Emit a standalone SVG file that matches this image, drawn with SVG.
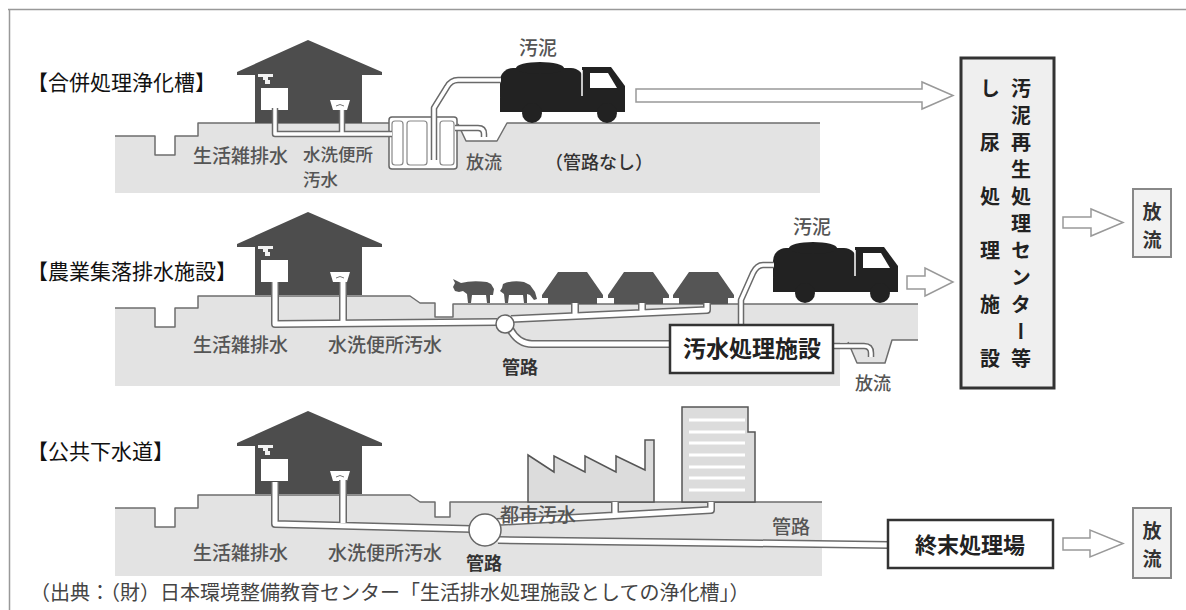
<svg xmlns="http://www.w3.org/2000/svg" xmlns:xlink="http://www.w3.org/1999/xlink" width="1186" height="610" viewBox="0 0 1186 610">
  <style>
    text { font-family: "Noto Sans CJK JP", "Noto Sans", sans-serif; }
    .title { font-size: 21px; fill: #111; }
    .lbl { font-size: 19px; fill: #555; font-weight: 500; }
    .lbl-dark { font-size: 18px; fill: #333; font-weight: bold; }
    .box-txt { font-size: 23px; fill: #222; font-weight: bold; text-anchor: middle; }
    .v-txt { font-size: 20px; fill: #222; font-weight: bold; writing-mode: vertical-rl; }
    .out-txt { font-size: 19px; fill: #333; font-weight: bold; text-anchor: middle; }
    .ground { fill: #e3e3e3; stroke: none; }
    .ground-edge { fill: none; stroke: #6e6e6e; stroke-width: 1.5; stroke-linejoin: round; }
    .pipe-o { fill: none; stroke: #6a6a6a; stroke-width: 8; stroke-linejoin: round; }
    .pipe-i { fill: none; stroke: #ffffff; stroke-width: 5; stroke-linejoin: round; }
    .thin-o { fill: none; stroke: #6a6a6a; stroke-width: 6.5; stroke-linejoin: round; }
    .thin-i { fill: none; stroke: #ffffff; stroke-width: 3.5; stroke-linejoin: round; }
    .hollow { fill: #fff; stroke: #999; stroke-width: 1.5; stroke-linejoin: miter; }
    .dark { fill: #4d4d4d; }
    .manhole { fill: #fff; stroke: #666; stroke-width: 1.5; }
    .facility { fill: #fff; stroke: #333; stroke-width: 2.5; }
    .outlet { fill: #f2f2f2; stroke: #888; stroke-width: 2; }
  </style>
  <defs>
    <!-- dwelling with sink, faucet and toilet -->
    <g id="house">
      <path class="dark" d="M237,72 L308,40 L382,72 L382,75 L362,75 L362,123 L255,123 L255,75 L237,75 Z"/>
      <path d="M258,74 H273 V77 H268 V80 H270 V84 H265 V80 H263 V77 H258 Z" fill="#f2f2f2"/>
      <rect x="261" y="88" width="27" height="22" fill="#fff"/>
      <path d="M330,100 H350 L347,110 H333 Z" fill="#fff"/>
      <path d="M336,106 q4,-3 8,0" fill="none" stroke="#777" stroke-width="1"/>
    </g>
    <!-- vacuum truck -->
    <g id="truck">
      <rect x="500" y="68" width="84" height="42" rx="13" fill="#222"/>
      <ellipse cx="540" cy="68" rx="24" ry="6" fill="#222"/>
      <rect x="500" y="98" width="125" height="14" fill="#222"/>
      <path d="M582,67 H611 L625,86 V112 H582 Z" fill="#222"/>
      <path d="M582,70 V96" stroke="#fff" stroke-width="1.5"/>
      <path d="M590,73 H608 L617,88 H590 Z" fill="#fff"/>
      <circle cx="532" cy="113" r="10" fill="#222"/>
      <circle cx="607" cy="113" r="10" fill="#222"/>
    </g>
    <path id="barn" d="M558,272 H587 L603,295 V298 H597 V304 H548 V298 H542 V295 Z" fill="#555"/>
  </defs>

  <rect width="1186" height="610" fill="#fff"/>
  <path id="frame" d="M8,9.5 H1186 M9.5,9 V610" fill="none" stroke="#999" stroke-width="1.5"/>

  <!-- ===== combined septic tank ===== -->
  <g id="sec-septic">
    <text class="title" x="27" y="90">【合併処理浄化槽】</text>
    <path class="ground" d="M115,136 H155 V155 H175 V136 H198 V123 H458 L466,141 H497 L507,123 H820 V193 H115 Z"/>
    <path class="ground-edge" d="M115,136 H155 V155 H175 V136 H198 V123 H389 M458,124 L466,141 H497 L507,123 H820"/>
    <use href="#house"/>
    <use href="#truck"/>
    <!-- tank -->
    <rect x="389" y="117" width="68" height="52" rx="3" fill="#fff" stroke="#666" stroke-width="1.5"/>
    <g fill="none" stroke="#888" stroke-width="1.2">
      <rect x="392" y="121" width="11" height="44" rx="3"/>
      <rect x="407" y="121" width="20" height="44" rx="3"/>
      <rect x="440" y="121" width="14" height="44" rx="3"/>
    </g>
    <path class="thin-o" d="M275,108 V134 H392 M342,110 V134"/>
    <path class="thin-o" d="M501,80 H458 Q451,80 447,87 L434,108 V160"/>
    <path class="thin-o" d="M455,128 H478 Q484,128 484,134 V137"/>
    <path class="thin-i" d="M275,108 V134 H392 M342,110 V134"/>
    <path class="thin-i" d="M501,80 H458 Q451,80 447,87 L434,108 V160"/>
    <path class="thin-i" d="M455,128 H478 Q484,128 484,134 V137"/>
    <text class="lbl" x="519" y="55">汚泥</text>
    <text class="lbl" x="193" y="163">生活雑排水</text>
    <text class="lbl" style="font-size:17.5px"><tspan x="303" y="161">水洗便所</tspan><tspan x="303" y="186">汚水</tspan></text>
    <text class="lbl" x="466" y="169" style="font-size:18px">放流</text>
    <text x="545" y="169" style="font-size:18px;fill:#333;font-weight:500">（管路なし）</text>
  </g>

  <!-- ===== rural community sewerage ===== -->
  <g id="sec-rural">
    <text class="title" x="27" y="279">【農業集落排水施設】</text>
    <path class="ground" d="M115,308 H155 V327 H175 V308 H198 V296 H410 L420,303 H435 V317 H453 V304 H918 V340 H892 L885,363 H857 L848,342 H840 V386 H115 Z"/>
    <path class="ground-edge" d="M115,308 H155 V327 H175 V308 H198 V296 H410 L420,303 H435 V317 H453 V304 H918 M918,340 H892 L885,363 H857 L848,342"/>
    <use href="#house" transform="translate(0,172)"/>
    <!-- cattle -->
    <path fill="#555" d="M461,283 Q472,280 487,282 L491,284 L494,289 L493,295 L490,295 L490,303 L487,303 L486,295 L472,295 L471,303 L468,303 L467,294 L463,291 L459,292 L455,291 L453,287 L455,283 L453,279 L457,281 Z"/>
    <path fill="#555" d="M503,284 Q512,280 524,282 L530,285 L535,292 L537,299 L534,300 L530,295 L527,294 L527,303 L524,303 L523,295 L509,295 L508,303 L505,303 L504,294 L500,291 L502,288 Z"/>
    <!-- barns -->
    <use href="#barn"/>
    <use href="#barn" transform="translate(66,0)"/>
    <use href="#barn" transform="translate(131,0)"/>
    <use href="#truck" transform="translate(273,180)"/>
    <path class="pipe-o" d="M275,282 V324 L497,322 M343,282 V323 M511,319 L707,310 V303 M575,303 V316 M642,303 V313 M510,329 Q518,344 532,344 H672"/>
    <path class="thin-o" d="M774,265 H763 Q757,265 753,273 L741,300 V326 M833,346 H864 Q871,346 871,353 V357"/>
    <path class="pipe-i" d="M275,282 V324 L497,322 M343,282 V323 M511,319 L707,310 V303 M575,303 V316 M642,303 V313 M510,329 Q518,344 532,344 H672"/>
    <path class="thin-i" d="M774,265 H763 Q757,265 753,273 L741,300 V326 M833,346 H864 Q871,346 871,353 V357"/>
    <circle class="manhole" cx="505" cy="324" r="9"/>
    <g id="wastewater-plant">
      <rect class="facility" x="670" y="325" width="163" height="48"/>
      <text class="box-txt" x="752" y="357">汚水処理施設</text>
    </g>
    <text class="lbl" x="793" y="234">汚泥</text>
    <text class="lbl" x="193" y="352">生活雑排水</text>
    <text class="lbl" x="328" y="352">水洗便所汚水</text>
    <text class="lbl-dark" x="502" y="374">管路</text>
    <text class="lbl" x="855" y="390" style="font-size:18px">放流</text>
  </g>

  <!-- ===== public sewerage ===== -->
  <g id="sec-public">
    <text class="title" x="27" y="459">【公共下水道】</text>
    <path class="ground" d="M115,508 H155 V527 H175 V508 H198 V495 H410 L420,502 H435 V517 H450 V502 H822 V576 H115 Z"/>
    <path class="ground-edge" d="M115,508 H155 V527 H175 V508 H198 V495 H410 L420,502 H435 V517 H450 V502 H822"/>
    <use href="#house" transform="translate(0,371)"/>
    <!-- factory and office building -->
    <path d="M528,502 V455 L554,472 V456 L585,472 V456 L616,472 V456 L645,470 V440 H654 V502 Z" fill="#dcdcdc" stroke="#555" stroke-width="1.5"/>
    <path d="M682,502 V407 H748 V432 H755 V502 Z" fill="#dcdcdc" stroke="#555" stroke-width="1.5"/>
    <path d="M689,420 H745 M689,432 H745 M689,443 H745 M689,455 H745 M689,467 H745 M689,478 H745 M689,490 H745" stroke="#fff" stroke-width="3"/>
    <path class="pipe-o" d="M275,482 V524 L472,529 M343,480 V523 M497,522 L711,510 V502 M615,502 V516 M498,540 L890,545"/>
    <path class="pipe-i" d="M275,482 V524 L472,529 M343,480 V523 M497,522 L711,510 V502 M615,502 V516 M498,540 L890,545"/>
    <circle class="manhole" cx="485" cy="530" r="16"/>
    <g id="treatment-plant">
      <rect class="facility" x="888" y="520" width="165" height="48"/>
      <text class="box-txt" x="970" y="553" style="font-size:22px">終末処理場</text>
    </g>
    <text class="lbl" x="500" y="522">都市汚水</text>
    <text class="lbl" x="772" y="534">管路</text>
    <text class="lbl" x="193" y="560">生活雑排水</text>
    <text class="lbl" x="328" y="560">水洗便所汚水</text>
    <text class="lbl-dark" x="466" y="570">管路</text>
  </g>

  <!-- sludge recycling / night-soil treatment -->
  <g id="sludge-center">
    <rect x="961" y="58" width="93" height="330" fill="#efefef" stroke="#333" stroke-width="3"/>
    <text class="v-txt" x="1021" y="78" style="letter-spacing:7px">汚泥再生処理センター等</text>
    <text class="v-txt" x="990" y="78" style="letter-spacing:34px">し尿処理施設</text>
  </g>

  <g id="outlet-top">
    <rect class="outlet" x="1133" y="189" width="38" height="68"/>
    <text class="out-txt" x="1152" y="219">放</text>
    <text class="out-txt" x="1152" y="247">流</text>
  </g>
  <g id="outlet-bottom">
    <rect class="outlet" x="1133" y="508" width="38" height="70"/>
    <text class="out-txt" x="1152" y="538">放</text>
    <text class="out-txt" x="1152" y="566">流</text>
  </g>

  <g id="connectors">
    <path class="hollow" d="M636,89 H922 V82 L953,95.5 L922,109 V102 H636 Z"/>
    <path class="hollow" d="M907,276 H925 V268 L953,282 L925,296 V289 H907 Z"/>
    <path class="hollow" d="M1063,217 H1091 V209 L1123,222.5 L1091,236 V228 H1063 Z"/>
    <path class="hollow" d="M1063,538 H1090 V530 L1123,543.5 L1090,557 V550 H1063 Z"/>
  </g>

  <text x="30" y="600" style="font-size:20px;fill:#444">（出典：（財）日本環境整備教育センター「生活排水処理施設としての浄化槽」）</text>
</svg>
